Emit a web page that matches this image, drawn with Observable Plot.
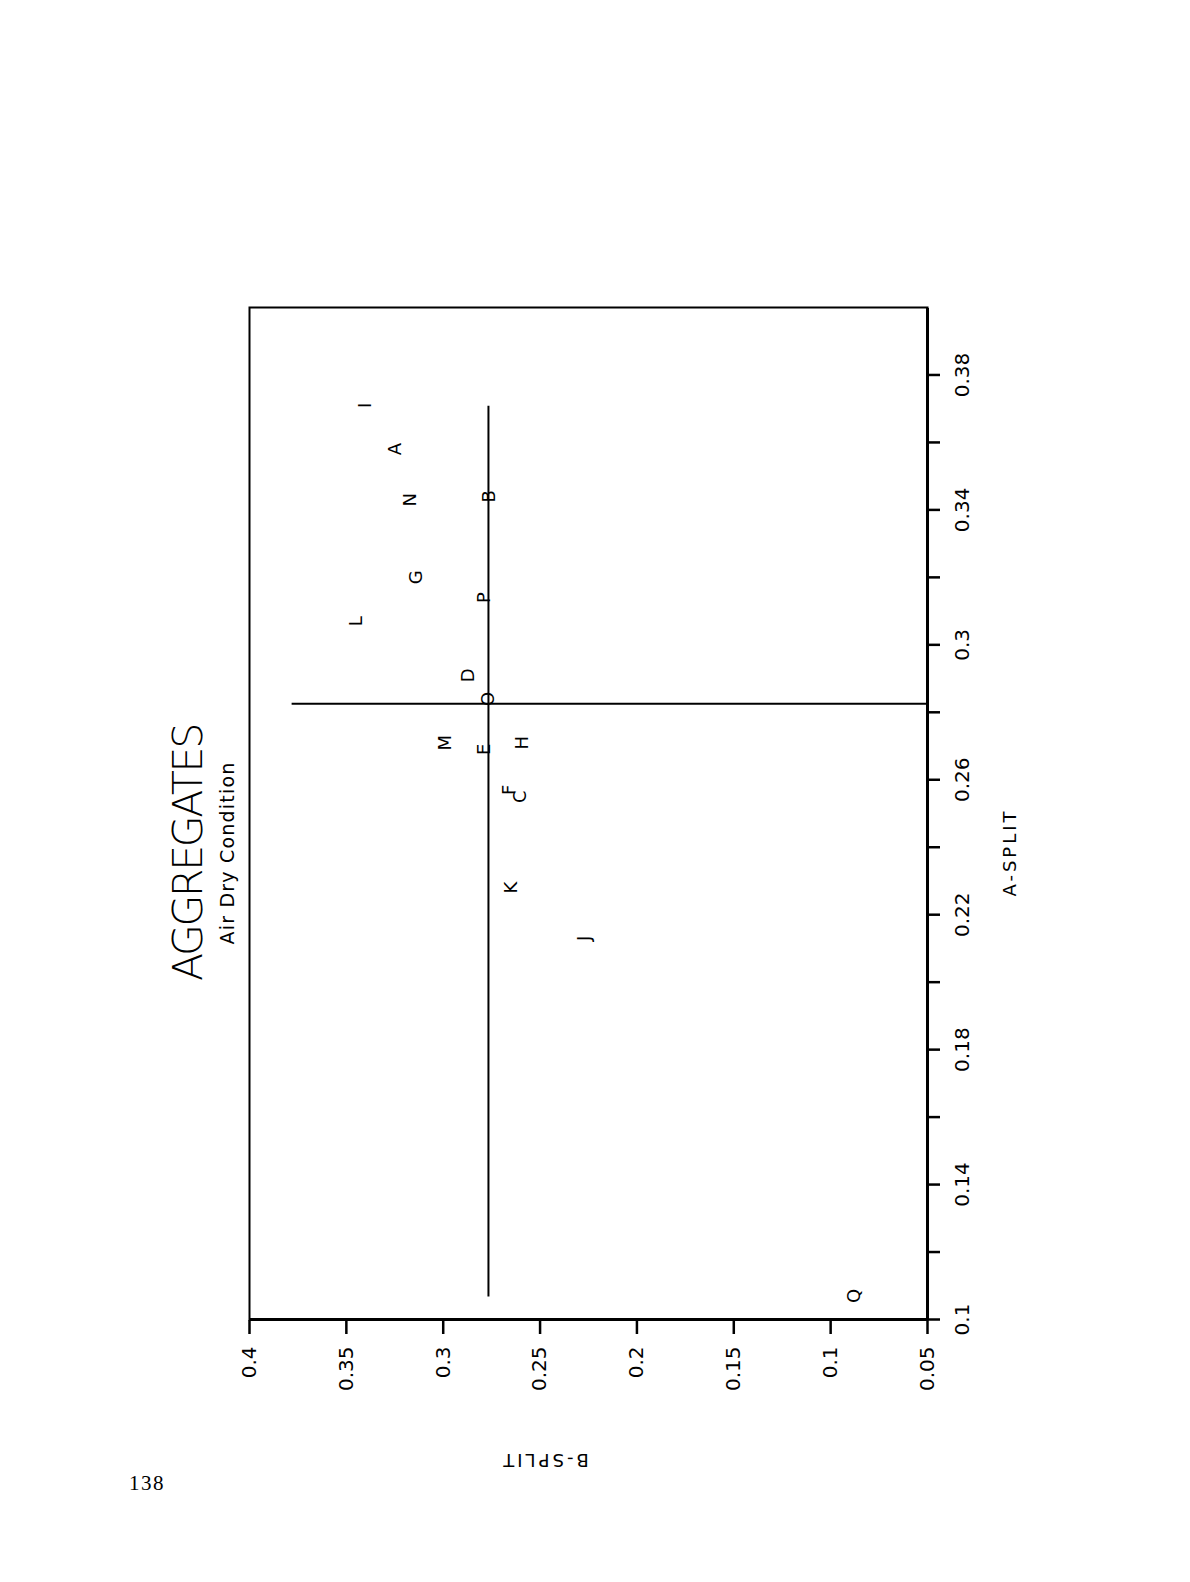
<!DOCTYPE html>
<html>
<head>
<meta charset="utf-8">
<script src="https://cdn.jsdelivr.net/npm/d3@7"></script>
<script src="https://cdn.jsdelivr.net/npm/@observablehq/plot@0.6"></script>
<style>
  html, body { margin: 0; padding: 0; background: #fff; }
  body { width: 1190px; height: 1582px; position: relative; overflow: hidden; font-family: "DejaVu Sans", sans-serif; color: #000; }
  /* the figure is laid out landscape and turned a quarter turn onto the portrait sheet */
  #sheet { position: absolute; left: 0; top: 0; width: 1220px; height: 890px;
           transform-origin: 0 0; transform: translate(150px, 1500px) rotate(-90deg); }
  #sheet svg { position: absolute; left: 0; top: 0; overflow: visible; }
  #title { position: absolute; left: 647px; top: 18px; transform: translateX(-50%);
           font-size: 41px; line-height: 1; font-weight: 200; letter-spacing: -2.3px; white-space: nowrap; }
  #subtitle { position: absolute; left: 647px; top: 68px; transform: translateX(-50%);
              font-size: 19px; line-height: 1; letter-spacing: 1.2px; white-space: nowrap; }
  #folio { position: absolute; left: 129px; top: 1473px; font-family: "Liberation Serif", serif;
           font-size: 21px; line-height: 1; letter-spacing: 1.5px; }
</style>
</head>
<body>
<div id="sheet">
  <div id="title">AGGREGATES</div>
  <div id="subtitle">Air Dry Condition</div>
</div>
<div id="folio">138</div>
<script>
// Aggregate samples: A-split and B-split values, air dry condition
const samples = ["A", "B", "C", "D", "E", "F", "G", "H", "I", "J", "K", "L", "M", "N", "O", "P", "Q"];
const aSplit  = [0.358, 0.344, 0.255, 0.291, 0.269, 0.257, 0.320, 0.271, 0.371, 0.213, 0.228, 0.307, 0.271, 0.343, 0.284, 0.314, 0.107];
const bSplit  = [0.325, 0.276, 0.260, 0.287, 0.279, 0.266, 0.314, 0.259, 0.340, 0.227, 0.265, 0.345, 0.299, 0.317, 0.277, 0.279, 0.088];

// Axis extents and ticks
const aDomain = [0.1, 0.4];
const bDomain = [0.05, 0.4];
const aTickValues = [0.10, 0.12, 0.14, 0.16, 0.18, 0.20, 0.22, 0.24, 0.26, 0.28, 0.30, 0.32, 0.34, 0.36, 0.38];
const aTickLabels = ["0.1", "", "0.14", "", "0.18", "", "0.22", "", "0.26", "", "0.3", "", "0.34", "", "0.38"];
const bTickValues = [0.05, 0.10, 0.15, 0.20, 0.25, 0.30, 0.35, 0.40];
const bTickLabels = ["0.05", "0.1", "0.15", "0.2", "0.25", "0.3", "0.35", "0.4"];
const axisTitles = ["A-SPLIT", "B-SPLIT"];

// Reach of the A-split mean line along the B axis
const aMeanLineSpan = [0.05, 0.378];

const points = samples.map((s, i) => ({sample: s, a: aSplit[i], b: bSplit[i]}));
const aMean = d3.mean(aSplit);
const bMean = d3.mean(bSplit);
const aLabel = new Map(aTickValues.map((v, i) => [v, aTickLabels[i]]));
const bLabel = new Map(bTickValues.map((v, i) => [v, bTickLabels[i]]));

const chart = Plot.plot({
  width: 1220,
  height: 890,
  marginTop: 99,
  marginRight: 28,
  marginBottom: 113,
  marginLeft: 180,
  style: {fontFamily: "DejaVu Sans, sans-serif", color: "#000", background: "transparent", overflow: "visible"},
  x: {domain: aDomain, label: null},
  y: {domain: bDomain, label: null},
  marks: [
    Plot.frame({stroke: "#000", strokeWidth: 2}),
    Plot.ruleX([aDomain[0]], {stroke: "#000", strokeWidth: 3}),
    Plot.ruleY([bDomain[0]], {stroke: "#000", strokeWidth: 3}),
    Plot.axisX({ticks: aTickValues, tickSize: 13, tickPadding: 14, strokeWidth: 2.5,
                tickFormat: d => aLabel.get(d) ?? "", fontSize: 20, label: null}),
    Plot.axisY({ticks: bTickValues, tickSize: 14, tickPadding: 13, strokeWidth: 2.5,
                tickFormat: d => bLabel.get(d) ?? "", fontSize: 20, label: null}),
    // mean of B across the A range of the samples
    Plot.ruleY([{b: bMean, a1: d3.min(aSplit), a2: d3.max(aSplit)}],
               {y: "b", x1: "a1", x2: "a2", stroke: "#000", strokeWidth: 2}),
    // mean of A
    Plot.ruleX([{a: aMean, b1: aMeanLineSpan[0], b2: aMeanLineSpan[1]}],
               {x: "a", y1: "b1", y2: "b2", stroke: "#000", strokeWidth: 2}),
    Plot.text(points, {x: "a", y: "b", text: "sample", fontSize: 18, fill: "#000"}),
    Plot.text([axisTitles[0]], {frameAnchor: "bottom", textAnchor: "middle", lineAnchor: "middle",
                                dx: -39, dy: 83, fontSize: 18, fill: "#000"}),
    Plot.text([axisTitles[1]], {frameAnchor: "left", textAnchor: "middle", lineAnchor: "middle",
                                dx: -140, dy: -44, rotate: -90, fontSize: 18, fill: "#000"})
  ]
});

// widen the axis titles to the plotter lettering
d3.select(chart).selectAll("text")
  .filter(function () { return axisTitles.includes(this.textContent); })
  .style("letter-spacing", "3px");
document.getElementById("sheet").prepend(chart);
</script>
</body>
</html>
